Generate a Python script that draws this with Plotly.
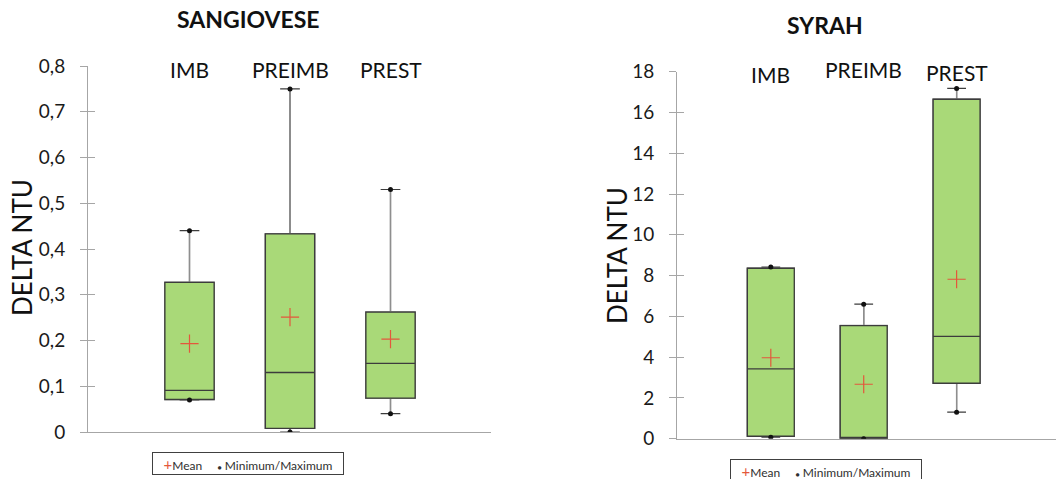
import plotly.graph_objects as go

# ---- data -------------------------------------------------------------
categories = ["IMB", "PREIMB", "PREST"]

# Sangiovese: delta NTU summary statistics per treatment
sang_min = [0.07, 0.0, 0.04]
sang_q1 = [0.071, 0.008, 0.074]
sang_median = [0.091, 0.130, 0.150]
sang_q3 = [0.327, 0.433, 0.262]
sang_max = [0.44, 0.75, 0.53]
sang_mean = [0.193, 0.251, 0.203]

# Syrah: delta NTU summary statistics per treatment
syr_min = [0.07, 0.0, 1.3]
syr_q1 = [0.12, 0.02, 2.72]
syr_median = [3.42, 0.05, 5.02]
syr_q3 = [8.36, 5.55, 16.65]
syr_max = [8.42, 6.6, 17.18]
syr_mean = [3.97, 2.67, 7.82]

sang_ticks = [0, 0.1, 0.2, 0.3, 0.4, 0.5, 0.6, 0.7, 0.8]
sang_ticktext = ["0", "0,1", "0,2", "0,3", "0,4", "0,5", "0,6", "0,7", "0,8"]
syr_ticks = [0, 2, 4, 6, 8, 10, 12, 14, 16, 18]
syr_ticktext = ["0", "2", "4", "6", "8", "10", "12", "14", "16", "18"]

# ---- styling ----------------------------------------------------------
W, H = 1056, 479
FONT = "Lato"
BOX_FILL = "#a9d978"
BOX_LINE = "#3c3c3c"
WHISKER_GRAY = "#8e8e8e"
AXIS_GRAY = "#a6a6a6"
MEAN_RED = "#e4573c"


def px_x(px):
    return px / W


def px_y(py):
    return 1 - py / H


fig = go.Figure()


def add_panel(xa, ya, ya_over, q1, med, q3, lo, hi, mean, width):
    common = dict(x=categories, median=med, boxpoints=False, width=width,
                  xaxis=xa, yaxis=ya, showlegend=False, hoverinfo="skip")
    # whisker caps (dark)
    fig.add_trace(go.Box(q1=q1, q3=q3, lowerfence=lo, upperfence=hi,
                         whiskerwidth=0.4, fillcolor=BOX_FILL,
                         line=dict(color=BOX_LINE, width=1.2), **common))
    # whisker stems (gray)
    fig.add_trace(go.Box(q1=q1, q3=q3, lowerfence=lo, upperfence=hi,
                         whiskerwidth=0, fillcolor=BOX_FILL,
                         line=dict(color=WHISKER_GRAY, width=1.4), **common))
    # interquartile box with median line
    fig.add_trace(go.Box(q1=q1, q3=q3, lowerfence=q1, upperfence=q3,
                         whiskerwidth=0, fillcolor=BOX_FILL,
                         line=dict(color=BOX_LINE, width=1.3), **common))
    # minimum / maximum dots
    fig.add_trace(go.Scatter(
        x=categories + categories, y=lo + hi, mode="markers",
        marker=dict(symbol="circle", size=5, color="#111111"),
        xaxis=xa, yaxis=ya_over, showlegend=False, hoverinfo="skip",
    ))
    # mean crosses
    fig.add_trace(go.Scatter(
        x=categories, y=mean, mode="markers",
        marker=dict(symbol="cross-thin", size=13,
                    line=dict(color=MEAN_RED, width=1.2)),
        xaxis=xa, yaxis=ya_over, showlegend=False, hoverinfo="skip",
    ))


add_panel("x", "y", "y3", sang_q1, sang_median, sang_q3,
          sang_min, sang_max, sang_mean, 0.49)
add_panel("x2", "y2", "y4", syr_q1, syr_median, syr_q3,
          syr_min, syr_max, syr_mean, 0.505)

y_common = dict(
    showline=True, linecolor=AXIS_GRAY, linewidth=1,
    showgrid=False, zeroline=False, automargin=False,
    ticks="outside", ticklen=7, tickcolor=AXIS_GRAY, tickwidth=1,
    tickfont=dict(family=FONT, size=19, color="#1a1a1a"),
    ticklabelstandoff=11,
)
y_inner = dict(
    showline=False, showgrid=False, zeroline=False, automargin=False,
    ticks="inside", ticklen=7, tickcolor=AXIS_GRAY, tickwidth=1,
    showticklabels=False,
)
x_common = dict(
    showline=True, linecolor=AXIS_GRAY, linewidth=1.3,
    showgrid=False, zeroline=False, ticks="", showticklabels=False,
    automargin=False,
    type="category", categoryorder="array", categoryarray=categories,
)

sang_domain_y = [px_y(432), px_y(66)]
syr_domain_y = [px_y(438.7), px_y(71.7)]

fig.update_layout(
    width=W, height=H,
    margin=dict(l=0, r=0, t=0, b=0, pad=0),
    paper_bgcolor="white", plot_bgcolor="rgba(0,0,0,0)",
    showlegend=False, boxmode="overlay",
    xaxis=dict(domain=[px_x(88), px_x(491)], range=[-1.01, 3.0],
               anchor="y", **x_common),
    yaxis=dict(domain=sang_domain_y, range=[0, 0.8], anchor="x",
               tickvals=sang_ticks, ticktext=sang_ticktext, **y_common),
    yaxis3=dict(overlaying="y", anchor="x", range=[0, 0.8],
                tickvals=sang_ticks, **y_inner),
    xaxis2=dict(domain=[px_x(677), 1.0], range=[-1.01, 3.07],
                anchor="y2", **x_common),
    yaxis2=dict(domain=syr_domain_y, range=[0, 18], anchor="x2",
                tickvals=syr_ticks, ticktext=syr_ticktext, **y_common),
    yaxis4=dict(overlaying="y2", anchor="x2", range=[0, 18],
                tickvals=syr_ticks, **y_inner),
)

annotations = []


def label(text, x, y, size, xref="paper", angle=0, bold=False):
    annotations.append(dict(
        text=f"<b>{text}</b>" if bold else text,
        x=x, y=y, xref=xref, yref="paper", showarrow=False,
        xanchor="center", yanchor="middle", textangle=angle,
        font=dict(family=FONT, size=size, color="#111111"),
    ))


# panel titles
label("SANGIOVESE", px_x(248), px_y(19), 23, bold=True)
label("SYRAH", px_x(825), px_y(25), 23, bold=True)

# y-axis titles
label("DELTA NTU", px_x(22), px_y(248), 26, angle=-90)
label("DELTA NTU", px_x(617), px_y(256), 26, angle=-90)

# category labels above the boxes
for cat, ypix in zip(categories, [69.5, 69.5, 69.5]):
    label(cat, cat, px_y(ypix), 21, xref="x")
for cat, ypix in zip(categories, [74, 70, 72.5]):
    label(cat, cat, px_y(ypix), 21, xref="x2")

# legend boxes
legend_text = (f'<span style="color:{MEAN_RED};font-size:15px">+</span>Mean'
               '\u00a0\u00a0\u00a0\u00a0\u00a0'
               '<span style="font-size:7px">\u25cf</span>\u00a0Minimum/Maximum')
for cx, top in [(248, 452), (826, 459)]:
    annotations.append(dict(text=legend_text, x=px_x(cx), y=px_y(top),
                            xref="paper", yref="paper", showarrow=False,
                            xanchor="center", yanchor="top",
                            width=186, height=17, borderpad=2,
                            bordercolor="#404040", borderwidth=1,
                            bgcolor="white",
                            font=dict(family=FONT, size=12, color="#303030")))

fig.update_layout(annotations=annotations)

fig.write_html("out.html")
